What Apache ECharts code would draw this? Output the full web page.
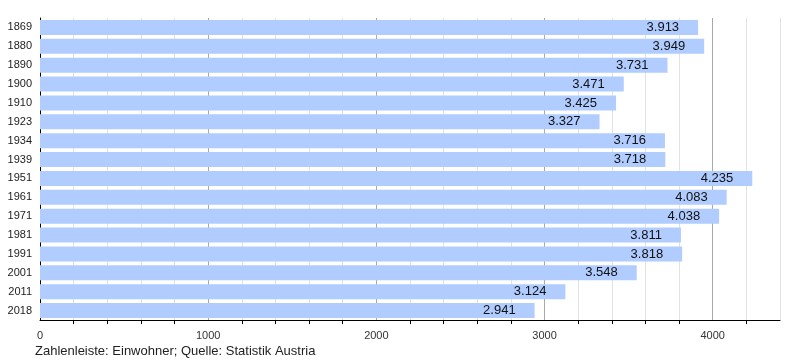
<!DOCTYPE html>
<html><head><meta charset="utf-8">
<script src="https://cdn.jsdelivr.net/npm/echarts@6/dist/echarts.min.js"></script>
<style>html,body{margin:0;padding:0;background:#fff}#c{width:800px;height:360px}</style>
</head><body><div id="c"></div>
<script>
const years = ['1869','1880','1890','1900','1910','1923','1934','1939','1951','1961','1971','1981','1991','2001','2011','2018'];
const population = [3913,3949,3731,3471,3425,3327,3716,3718,4235,4083,4038,3811,3818,3548,3124,2941];
const caption = 'Zahlenleiste: Einwohner; Quelle: Statistik Austria';

const chart = echarts.init(document.getElementById('c'), null, {renderer:'canvas'});
const ff = 'Liberation Sans, Arial, sans-serif';
chart.setOption({
  animation:false,
  textStyle:{fontFamily:ff},
  grid:{show:false, borderWidth:0, left:40, right:20, top:18, bottom:40},
  graphic:[{type:'text', left:35, top:345, style:{text:caption, font:'13px '+ff, fill:'#222'}}],
  xAxis:[{
    type:'value', position:'bottom', min:0, max:4400, interval:1000, z:1,
    axisLine:{show:true, onZero:false, lineStyle:{color:'#000', width:1}},
    axisTick:{show:false},
    minorTick:{show:true, splitNumber:5, length:4, lineStyle:{color:'#000'}},
    axisLabel:{color:'#333', fontSize:11, margin:10, showMaxLabel:false, formatter:v=>String(v)},
    splitLine:{show:true, showMinLine:false, showMaxLine:false, lineStyle:{color:'#a8a8a8', width:1}},
    minorSplitLine:{show:false}
  },{
    type:'value', position:'top', min:0, max:4400, interval:200, z:0,
    axisLine:{show:false}, axisTick:{show:false}, axisLabel:{show:false},
    splitLine:{show:true, showMinLine:false, showMaxLine:true, lineStyle:{color:'#e2e2e2', width:1}}
  }],
  yAxis:{
    type:'category', data:years, inverse:true,
    axisLine:{show:true, lineStyle:{color:'#000'}},
    axisTick:{show:false},
    splitLine:{show:false},
    axisLabel:{color:'#222', fontSize:11, margin:8}
  },
  series:[{
    type:'bar', data:population, barCategoryGap:'20%', xAxisIndex:0,
    itemStyle:{color:'#b1ccff'},
    label:{show:true, position:'insideRight', distance:19, color:'#111', fontSize:13,
      formatter:p=>{const v=p.value; return Math.floor(v/1000)+'.'+String(v%1000).padStart(3,'0');}}
  }]
});
</script></body></html>
